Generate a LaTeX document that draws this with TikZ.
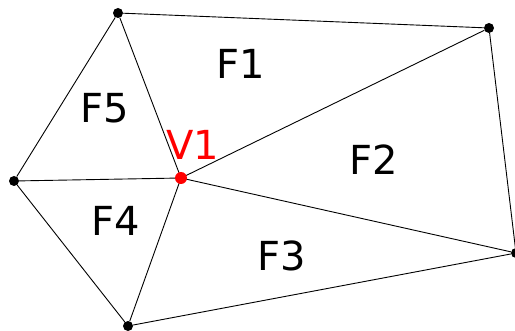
\documentclass[tikz,border=0pt]{standalone}
\usepackage{fontspec}
\setmainfont{DejaVu Sans}
\begin{document}
\begin{tikzpicture}[x=1pt,y=-1pt,
  vtx/.style={circle,fill=black,inner sep=0pt,minimum size=10pt},
  lbl/.style={font=\fontsize{40}{40}\selectfont,inner sep=0pt},
  edge/.style={line width=0.9pt}]
\useasboundingbox (0,0) rectangle (515,331);
\node[vtx] (T) at (118,13) {};
\node[vtx] (TR) at (489,28) {};
\node[vtx] (R) at (516,253) {};
\node[vtx] (B) at (128,326) {};
\node[vtx] (L) at (14,181) {};
\coordinate (Cc) at (181,178);
\draw[edge] (T) -- (TR) -- (R) -- (B) -- (L) -- (T);
\foreach \p in {T,TR,R,B,L} \draw[edge] (Cc) -- (\p);
\node[circle,fill=red,inner sep=0pt,minimum size=12pt] (C) at (Cc) {};
\node[lbl] (f1) at (241,64) {F1};
\node[lbl] (f5) at (105,108) {F5};
\node[lbl] (f2) at (374,160) {F2};
\node[lbl] (f4) at (116,221) {F4};
\node[lbl] (f3) at (282,256) {F3};
\node[lbl,text=red] (v1) at (193,145) {V1};
\end{tikzpicture}
\end{document}
